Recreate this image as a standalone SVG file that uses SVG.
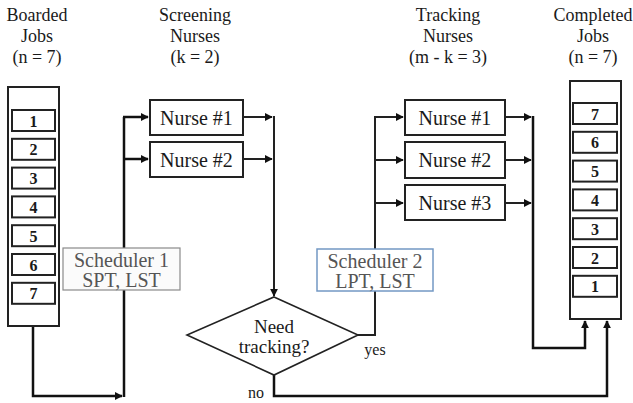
<svg xmlns="http://www.w3.org/2000/svg" width="633" height="403" viewBox="0 0 633 403">
<defs>
<marker id="ah" viewBox="0 0 10 10" refX="9" refY="5" markerWidth="3.2" markerHeight="3.2" orient="auto" markerUnits="strokeWidth">
<path d="M0,0 L10,5 L0,10 z" fill="#111"/>
</marker>
<marker id="ahs" viewBox="0 0 10 10" refX="9" refY="5" markerWidth="4" markerHeight="4" orient="auto" markerUnits="strokeWidth">
<path d="M0,0 L10,5 L0,10 z" fill="#111"/>
</marker>
</defs>
<style>
text{font-family:'Liberation Serif','Times New Roman',Tinos,'Noto Serif','DejaVu Serif',serif;fill:#1a1a1a;text-anchor:middle}
.hdr{font-size:18px}
.num{font-size:16px;font-weight:bold}
.nurse{font-size:20px}
.sch{font-size:20px;fill:#555}
.dec{font-size:19px}
.lbl{font-size:16px}
.cont{fill:#fff;stroke:#222;stroke-width:2}
.job{fill:#fff;stroke:#222;stroke-width:2}
.nbox{fill:#fff;stroke:#222;stroke-width:2}
.line{fill:none;stroke:#111;stroke-width:2.5}
.thin{fill:none;stroke:#222;stroke-width:2}
</style>
<rect width="633" height="403" fill="#fff"/>

<g id="headers">
<text class="hdr" x="37" y="21">Boarded</text>
<text class="hdr" x="37" y="42">Jobs</text>
<text class="hdr" x="37" y="63">(n = 7)</text>
<text class="hdr" x="195" y="21">Screening</text>
<text class="hdr" x="195" y="42">Nurses</text>
<text class="hdr" x="195" y="63">(k = 2)</text>
<text class="hdr" x="448" y="21">Tracking</text>
<text class="hdr" x="448" y="42">Nurses</text>
<text class="hdr" x="448" y="63">(m - k = 3)</text>
<text class="hdr" x="593" y="21">Completed</text>
<text class="hdr" x="593" y="42">Jobs</text>
<text class="hdr" x="593" y="63">(n = 7)</text>
</g>

<g id="connectors">
<path class="line" d="M33,326 V396 H122" marker-end="url(#ah)"/>
<path class="line" d="M124,397 V117"/>
<path class="line" d="M123,117 H148" marker-end="url(#ah)"/>
<path class="line" d="M123,159 H148" marker-end="url(#ah)"/>
<path class="thin" d="M243,117 H272" marker-end="url(#ahs)"/>
<path class="thin" d="M243,159 H272" marker-end="url(#ahs)"/>
<path class="thin" d="M274,116 V296" marker-end="url(#ahs)"/>
<path class="thin" d="M358,335 H375 V116"/>
<path class="thin" d="M374,117 H403" marker-end="url(#ahs)"/>
<path class="thin" d="M374,160 H403" marker-end="url(#ahs)"/>
<path class="thin" d="M374,203 H403" marker-end="url(#ahs)"/>
<path class="thin" d="M505,117 H531" marker-end="url(#ahs)"/>
<path class="thin" d="M505,160 H531" marker-end="url(#ahs)"/>
<path class="thin" d="M505,203 H531" marker-end="url(#ahs)"/>
<path class="line" d="M533,116 V348 H585 V321" marker-end="url(#ah)"/>
<path class="line" d="M274,375 V396 H607 V321" marker-end="url(#ah)"/>
</g>

<g id="boarded-jobs">
<rect class="cont" x="8" y="87" width="51" height="239"/>
<rect class="job" x="12" y="110" width="43" height="21"/>
<text class="num" x="33.5" y="126.5">1</text>
<rect class="job" x="12" y="138.8" width="43" height="21"/>
<text class="num" x="33.5" y="155.3">2</text>
<rect class="job" x="12" y="167.6" width="43" height="21"/>
<text class="num" x="33.5" y="184.1">3</text>
<rect class="job" x="12" y="196.4" width="43" height="21"/>
<text class="num" x="33.5" y="212.9">4</text>
<rect class="job" x="12" y="225.2" width="43" height="21"/>
<text class="num" x="33.5" y="241.7">5</text>
<rect class="job" x="12" y="254" width="43" height="21"/>
<text class="num" x="33.5" y="270.5">6</text>
<rect class="job" x="12" y="282.8" width="43" height="21"/>
<text class="num" x="33.5" y="299.3">7</text>
</g>

<g id="screening-nurse-1">
<rect class="nbox" x="150" y="100" width="93" height="35"/>
<text class="nurse" x="196.5" y="124.5">Nurse #1</text>
</g>
<g id="screening-nurse-2">
<rect class="nbox" x="150" y="142" width="93" height="35"/>
<text class="nurse" x="196.5" y="166.5">Nurse #2</text>
</g>

<g id="scheduler-1">
<rect x="63" y="248" width="117" height="42" fill="#fbfbfb" stroke="#8a8a8a" stroke-width="1.2"/>
<text class="sch" x="121.5" y="267">Scheduler 1</text>
<text class="sch" x="121.5" y="287">SPT, LST</text>
</g>

<g id="decision">
<polygon points="274,297 358,335 274,375 187,335" fill="#fff" stroke="#222" stroke-width="1.6"/>
<text class="dec" x="274" y="333">Need</text>
<text class="dec" x="274" y="353">tracking?</text>
</g>
<g id="labels">
<text class="lbl" x="375" y="355">yes</text>
<text class="lbl" x="256" y="398">no</text>
</g>

<g id="scheduler-2">
<rect x="317" y="249" width="116" height="42" fill="#fff" stroke="#7398c4" stroke-width="1.5"/>
<text class="sch" x="375" y="268">Scheduler 2</text>
<text class="sch" x="375" y="288">LPT, LST</text>
</g>

<g id="tracking-nurse-1">
<rect class="nbox" x="405" y="100" width="100" height="35"/>
<text class="nurse" x="455" y="124.5">Nurse #1</text>
</g>
<g id="tracking-nurse-2">
<rect class="nbox" x="405" y="142" width="100" height="36"/>
<text class="nurse" x="455" y="167">Nurse #2</text>
</g>
<g id="tracking-nurse-3">
<rect class="nbox" x="405" y="185" width="100" height="35"/>
<text class="nurse" x="455" y="209.5">Nurse #3</text>
</g>

<g id="completed-jobs">
<rect class="cont" x="570" y="81" width="51" height="238"/>
<rect class="job" x="573" y="103" width="44" height="21"/>
<text class="num" x="595" y="119.5">7</text>
<rect class="job" x="573" y="131.8" width="44" height="21"/>
<text class="num" x="595" y="148.3">6</text>
<rect class="job" x="573" y="160.6" width="44" height="21"/>
<text class="num" x="595" y="177.1">5</text>
<rect class="job" x="573" y="189.4" width="44" height="21"/>
<text class="num" x="595" y="205.9">4</text>
<rect class="job" x="573" y="218.2" width="44" height="21"/>
<text class="num" x="595" y="234.7">3</text>
<rect class="job" x="573" y="247" width="44" height="21"/>
<text class="num" x="595" y="263.5">2</text>
<rect class="job" x="573" y="275.8" width="44" height="21"/>
<text class="num" x="595" y="292.3">1</text>
</g>
</svg>
